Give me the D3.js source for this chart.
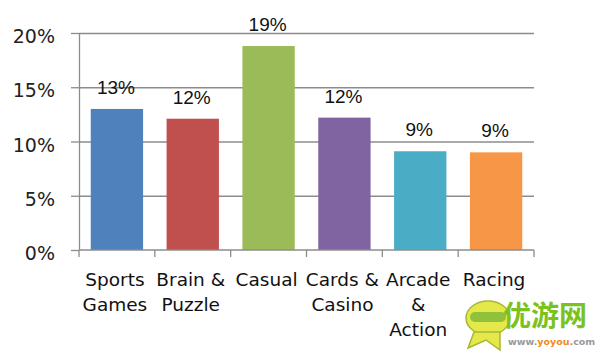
<!DOCTYPE html>
<html>
<head>
<meta charset="utf-8">
<script src="https://cdn.jsdelivr.net/npm/d3@7"></script>
<style>
  html, body { margin: 0; padding: 0; background: #fff; }
</style>
</head>
<body>
<svg id="chart" width="613" height="357"></svg>
<script>
// data
const categories = ['Sports Games', 'Brain & Puzzle', 'Casual', 'Cards & Casino', 'Arcade & Action', 'Racing']
const categoryLines = [['Sports', 'Games'], ['Brain &', 'Puzzle'], ['Casual'], ['Cards &', 'Casino'], ['Arcade', '&', 'Action'], ['Racing']]
const shares = [13.0, 12.1, 18.8, 12.2, 9.1, 9.0]
const yTicks = [0, 5, 10, 15, 20]
const colors = ['#4f81bd', '#c0504d', '#9bbb59', '#8064a2', '#4bacc6', '#f79646']

const width = 613
const height = 357
const margin = { top: 33, right: 79, bottom: 107, left: 79 }

const svg = d3.select('#chart')

const x = d3
  .scaleBand()
  .domain(categories)
  .range([margin.left, width - margin.right])
  .paddingInner(0.31)
  .paddingOuter(0.155)

const y = d3
  .scaleLinear()
  .domain([0, 20])
  .range([height - margin.bottom, margin.top])

const gridColor = '#8c8c8c'

// gridlines
svg
  .append('g')
  .attr('id', 'grid')
  .attr('transform', 'translate(' + margin.left + ',0)')
  .call(
    d3.axisLeft(y)
      .tickValues(yTicks.slice(1))
      .tickSize(-(width - margin.right - margin.left))
      .tickFormat('')
  )
  .call((g) => g.select('.domain').remove())
  .call((g) => g.selectAll('line').attr('stroke', gridColor).attr('stroke-width', 1.3))

// bars
svg
  .append('g')
  .attr('id', 'bars')
  .selectAll('rect')
  .data(shares)
  .join('rect')
  .attr('x', (d, i) => x(categories[i]))
  .attr('y', (d) => y(d))
  .attr('width', x.bandwidth())
  .attr('height', (d) => y(0) - y(d))
  .attr('fill', (d, i) => colors[i])

// y axis
svg
  .append('g')
  .attr('id', 'yAxis')
  .attr('transform', 'translate(' + margin.left + ',0)')
  .call(
    d3.axisLeft(y)
      .tickValues(yTicks)
      .tickSize(8)
      .tickSizeOuter(0)
      .tickPadding(16)
      .tickFormat((d) => d + '%')
  )
  .call((g) => g.select('.domain').attr('stroke', gridColor).attr('stroke-width', 1.3))
  .call((g) => g.selectAll('line').attr('stroke', gridColor).attr('stroke-width', 1.3))
  .call((g) =>
    g.selectAll('text')
      .attr('font-family', 'DejaVu Sans')
      .attr('font-size', 19)
      .attr('fill', '#222')
      .attr('dy', '0.5em')
  )

// x axis line and ticks at band boundaries
const xAxis = svg.append('g').attr('id', 'xAxis')
const x0 = x.range()[0]
const x1 = x.range()[1]
xAxis
  .append('line')
  .attr('x1', x0)
  .attr('x2', x1)
  .attr('y1', y(0))
  .attr('y2', y(0))
  .attr('stroke', gridColor)
  .attr('stroke-width', 1.3)

const boundaries = categories.map((c) => x(c) - (x.step() * x.paddingInner()) / 2)
boundaries.push(x1)
boundaries[0] = x0
xAxis
  .selectAll('.tick')
  .data(boundaries)
  .join('line')
  .attr('class', 'tick')
  .attr('x1', (d) => d)
  .attr('x2', (d) => d)
  .attr('y1', y(0))
  .attr('y2', y(0) + 7)
  .attr('stroke', gridColor)
  .attr('stroke-width', 1.3)

// category labels
const catLabels = xAxis
  .selectAll('text')
  .data(categoryLines)
  .join('text')
  .attr('font-family', 'DejaVu Sans')
  .attr('font-size', 18.5)
  .attr('fill', '#111')
  .attr('text-anchor', 'middle')

catLabels
  .selectAll('tspan')
  .data((d, i) => d.map((line) => ({ line, i })))
  .join('tspan')
  .attr('x', (d) => x(categories[d.i]) + x.bandwidth() / 2 - 2)
  .attr('y', (d, j) => y(0) + 36 + j * 25)
  .text((d) => d.line)

// value labels
svg
  .append('g')
  .attr('id', 'labels')
  .selectAll('text')
  .data(shares)
  .join('text')
  .attr('x', (d, i) => x(categories[i]) + x.bandwidth() / 2 - 1)
  .attr('y', (d) => y(d) - 15)
  .attr('text-anchor', 'middle')
  .attr('font-family', 'Liberation Sans, Arial, sans-serif')
  .attr('font-size', 19)
  .attr('fill', '#111')
  .text((d) => Math.round(d) + '%')

// watermark
const wm = svg.append('g').attr('id', 'watermark')
wm.append('ellipse')
  .attr('cx', 488).attr('cy', 318).attr('rx', 22).attr('ry', 17)
  .attr('fill', '#e4e84a').attr('stroke', '#a8b832').attr('stroke-width', 1.5)
wm.append('path')
  .attr('d', 'M474,332 L468,348 L486,340 L500,350 L500,332 Z')
  .attr('fill', '#e4e84a').attr('stroke', '#a8b832').attr('stroke-width', 1.5)
wm.append('rect')
  .attr('x', 470).attr('y', 312).attr('width', 36).attr('height', 10).attr('rx', 5)
  .attr('fill', '#8fc23a')
wm.append('text')
  .attr('x', 503).attr('y', 326)
  .attr('font-family', 'Noto Sans CJK SC')
  .attr('font-weight', 'bold')
  .attr('font-size', 28)
  .attr('fill', '#7cc21f')
  .text('优游网')
wm.append('text')
  .attr('x', 508).attr('y', 345)
  .attr('font-family', 'DejaVu Sans')
  .attr('font-weight', 'bold')
  .attr('font-size', 9.5)
  .attr('fill', '#999')
  .html('www.<tspan fill="#f08a1c">yoyou</tspan>.com')
</script>
</body>
</html>
